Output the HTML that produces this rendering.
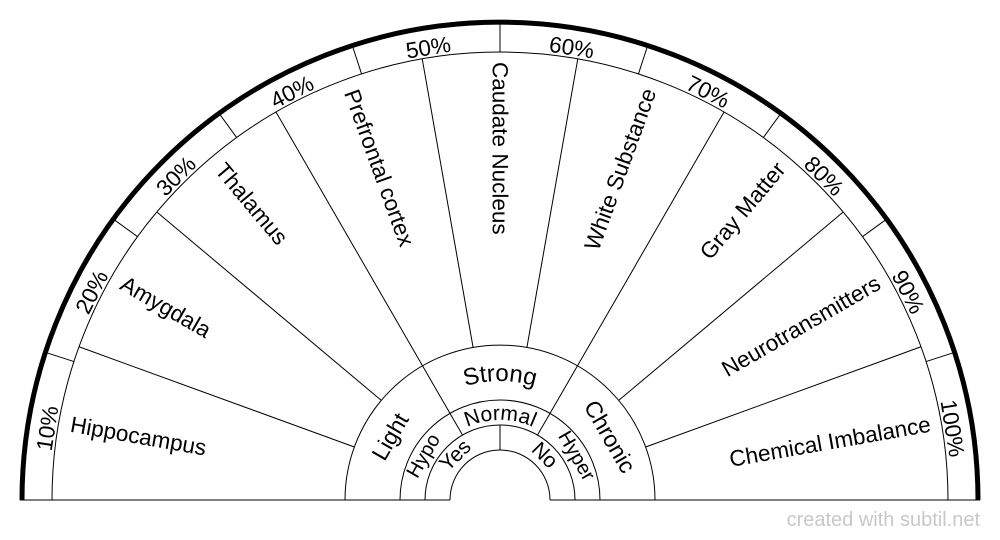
<!DOCTYPE html>
<html><head><meta charset="utf-8"><style>
html,body{margin:0;padding:0;background:#fff;}
svg{display:block;}
text{font-family:"Liberation Sans",sans-serif;fill:#000;}
</style></head><body>
<svg width="1000" height="540" viewBox="0 0 1000 540" xmlns="http://www.w3.org/2000/svg">
<defs>
<path id="arcS" d="M381,500 A119,119 0 0 1 619,500"/>
<path id="arcN" d="M420,500 A80,80 0 0 1 580,500"/>
</defs>
<g fill="none" stroke="#000" stroke-width="1">
<path d="M52,500 A448,448 0 0 1 948,500"/>
<path d="M345,500 A155,155 0 0 1 655,500"/>
<path d="M400,500 A100,100 0 0 1 600,500"/>
<path d="M425,500 A75,75 0 0 1 575,500"/>
<path d="M450,500 A50,50 0 0 1 550,500"/>
<line x1="20" y1="500" x2="450" y2="500"/>
<line x1="550" y1="500" x2="980" y2="500"/>
<line x1="345" y1="500" x2="52" y2="500" transform="rotate(20 500 500)"/>
<line x1="345" y1="500" x2="52" y2="500" transform="rotate(40 500 500)"/>
<line x1="345" y1="500" x2="52" y2="500" transform="rotate(60 500 500)"/>
<line x1="345" y1="500" x2="52" y2="500" transform="rotate(80 500 500)"/>
<line x1="345" y1="500" x2="52" y2="500" transform="rotate(100 500 500)"/>
<line x1="345" y1="500" x2="52" y2="500" transform="rotate(120 500 500)"/>
<line x1="345" y1="500" x2="52" y2="500" transform="rotate(140 500 500)"/>
<line x1="345" y1="500" x2="52" y2="500" transform="rotate(160 500 500)"/>
<line x1="52" y1="500" x2="22" y2="500" transform="rotate(18 500 500)"/>
<line x1="52" y1="500" x2="22" y2="500" transform="rotate(36 500 500)"/>
<line x1="52" y1="500" x2="22" y2="500" transform="rotate(54 500 500)"/>
<line x1="52" y1="500" x2="22" y2="500" transform="rotate(72 500 500)"/>
<line x1="52" y1="500" x2="22" y2="500" transform="rotate(90 500 500)"/>
<line x1="52" y1="500" x2="22" y2="500" transform="rotate(108 500 500)"/>
<line x1="52" y1="500" x2="22" y2="500" transform="rotate(126 500 500)"/>
<line x1="52" y1="500" x2="22" y2="500" transform="rotate(144 500 500)"/>
<line x1="52" y1="500" x2="22" y2="500" transform="rotate(162 500 500)"/>
<line x1="400" y1="500" x2="345" y2="500" transform="rotate(60 500 500)"/>
<line x1="400" y1="500" x2="345" y2="500" transform="rotate(120 500 500)"/>
<line x1="425" y1="500" x2="400" y2="500" transform="rotate(60 500 500)"/>
<line x1="425" y1="500" x2="400" y2="500" transform="rotate(120 500 500)"/>
<line x1="500" y1="450" x2="500" y2="425"/>
</g>
<path d="M22,500 A478,478 0 0 1 978,500" fill="none" stroke="#000" stroke-width="5"/>
<g font-size="22.5" dominant-baseline="central">
<text x="64" y="500" transform="rotate(10 500 500)">Hippocampus</text>
<text x="64" y="500" transform="rotate(30 500 500)">Amygdala</text>
<text x="64" y="500" transform="rotate(50 500 500)">Thalamus</text>
<text x="64" y="500" transform="rotate(70 500 500)">Prefrontal cortex</text>
<text x="62" y="500" transform="rotate(90 500 500)">Caudate Nucleus</text>
<text x="937" y="500" text-anchor="end" transform="rotate(-70 500 500)">White Substance</text>
<text x="937" y="500" text-anchor="end" transform="rotate(-50 500 500)">Gray Matter</text>
<text x="937" y="500" text-anchor="end" transform="rotate(-30 500 500)">Neurotransmitters</text>
<text x="937" y="500" text-anchor="end" transform="rotate(-10 500 500)">Chemical Imbalance</text>
</g>
<g font-size="22.5" text-anchor="middle" dominant-baseline="central">
<text x="500" y="42" transform="rotate(-81 500 500)">10%</text>
<text x="500" y="42" transform="rotate(-63 500 500)">20%</text>
<text x="500" y="42" transform="rotate(-45 500 500)">30%</text>
<text x="500" y="42" transform="rotate(-27 500 500)">40%</text>
<text x="500" y="42" transform="rotate(-9 500 500)">50%</text>
<text x="500" y="42" transform="rotate(9 500 500)">60%</text>
<text x="500" y="42" transform="rotate(27 500 500)">70%</text>
<text x="500" y="42" transform="rotate(45 500 500)">80%</text>
<text x="500" y="42" transform="rotate(63 500 500)">90%</text>
<text x="500" y="42" transform="rotate(81 500 500)">100%</text>
</g>
<g font-size="23" text-anchor="middle">
<text dominant-baseline="central" x="500" y="373" transform="rotate(-60 500 500)">Light</text>
<text font-size="24"><textPath href="#arcS" startOffset="50%">Strong</textPath></text>
<text dominant-baseline="central" x="500" y="373" transform="rotate(60 500 500)">Chronic</text>
</g>
<g font-size="20" text-anchor="middle">
<text dominant-baseline="central" x="500" y="412" transform="rotate(-60 500 500)">Hypo</text>
<text font-size="21"><textPath href="#arcN" startOffset="50%">Normal</textPath></text>
<text dominant-baseline="central" x="500" y="412" transform="rotate(60 500 500)">Hyper</text>
</g>
<g font-size="21" text-anchor="middle" dominant-baseline="central">
<text x="500" y="437" transform="rotate(-45 500 500)">Yes</text>
<text x="500" y="437" transform="rotate(45 500 500)">No</text>
</g>
<text x="980" y="526" text-anchor="end" font-size="20" style="fill:#c8c8c8">created with subtil.net</text>
</svg>
</body></html>
